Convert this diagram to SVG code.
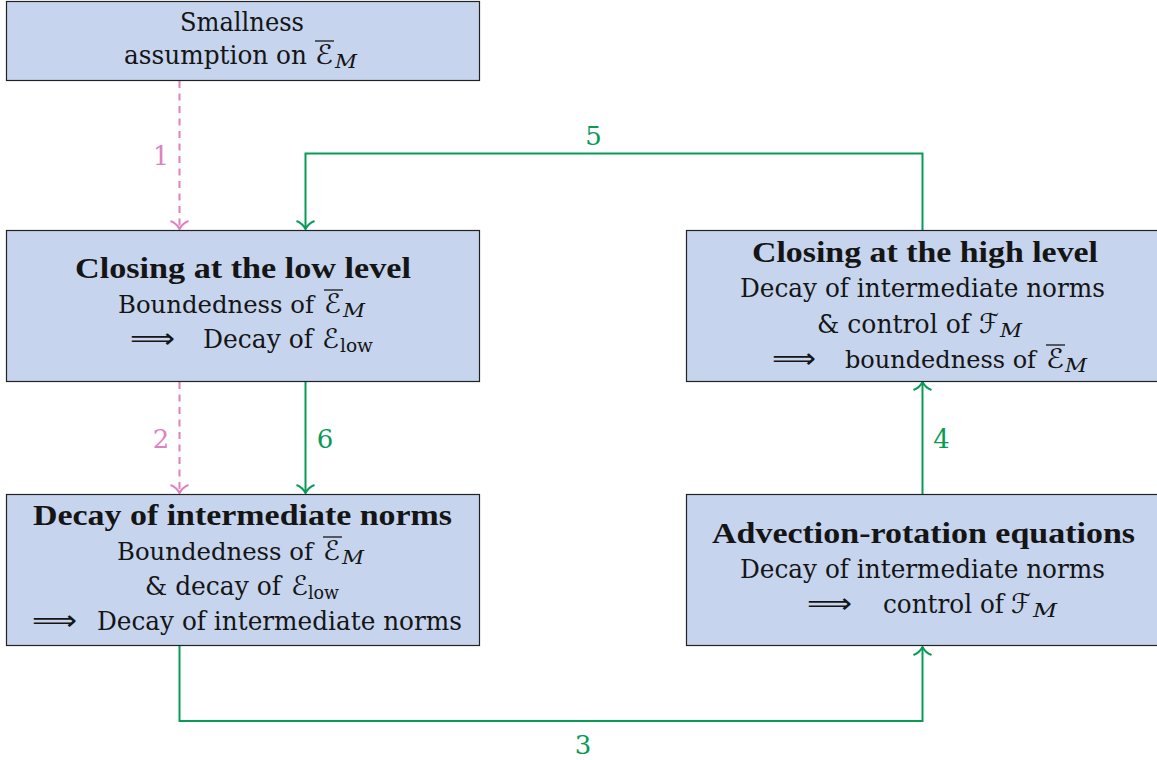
<svg xmlns="http://www.w3.org/2000/svg" width="1157" height="760" viewBox="0 0 1157 760">
<style>
.box{fill:#c6d4ed;stroke:#222;stroke-width:1.2}
text{font-family:"DejaVu Serif","Liberation Serif",serif;font-size:26px;fill:#151515;font-weight:normal}
.b{font-family:"Liberation Serif","DejaVu Serif",serif;font-size:28.8px;font-weight:bold}
.n{font-size:24.5px}
.cal{font-family:"DejaVu Serif","DejaVu Sans",serif;font-size:27px}
.sub{font-size:18px}
.it{font-style:italic}
.arr{font-family:"DejaVu Sans",sans-serif;font-size:28px}
.ov{stroke:#151515;stroke-width:1.3}
.pink{stroke:#dc82c0;stroke-width:2;fill:none;stroke-dasharray:7 5.5}
.green{stroke:#079b57;stroke-width:2;fill:none}
.lp{fill:#dc82c0}
.lg{fill:#079b57}
</style>
<defs>
<marker id="ap" markerUnits="userSpaceOnUse" viewBox="-10 -10 12 20" refX="0" refY="0" markerWidth="12" markerHeight="20" orient="auto" overflow="visible">
<path d="M-8,-9 C-6,-4 -2,-1 0,0 C-2,1 -6,4 -8,9" fill="none" stroke="#dc82c0" stroke-width="2"/>
</marker>
<marker id="ag" markerUnits="userSpaceOnUse" viewBox="-10 -10 12 20" refX="0" refY="0" markerWidth="12" markerHeight="20" orient="auto" overflow="visible">
<path d="M-8,-9 C-6,-4 -2,-1 0,0 C-2,1 -6,4 -8,9" fill="none" stroke="#079b57" stroke-width="2"/>
</marker>
</defs>

<g id="connectors">
<path class="pink" d="M179.5,81 V229" marker-end="url(#ap)"/>
<path class="pink" d="M179.5,382 V493" marker-end="url(#ap)"/>
<path class="green" d="M305.5,382 V493" marker-end="url(#ag)"/>
<path class="green" d="M179.5,646 V721 H922.5 V647" marker-end="url(#ag)"/>
<path class="green" d="M922.5,494 V382" marker-end="url(#ag)"/>
<path class="green" d="M922.5,230 V153.5 H305.5 V229" marker-end="url(#ag)"/>
<text class="lp" x="161" y="165" text-anchor="middle">1</text>
<text class="lp" x="161" y="448" text-anchor="middle">2</text>
<text class="lg" x="325" y="448" text-anchor="middle">6</text>
<text class="lg" x="941.5" y="448" text-anchor="middle">4</text>
<text class="lg" x="593.5" y="145" text-anchor="middle">5</text>
<text class="lg" x="583" y="754" text-anchor="middle">3</text>
</g>

<g id="n-smallness">
<rect class="box" x="6.5" y="1.5" width="473" height="79"/>
<text x="180" y="31" textLength="124" lengthAdjust="spacingAndGlyphs">Smallness</text>
<text y="64"><tspan x="124" textLength="183" lengthAdjust="spacingAndGlyphs">assumption on</tspan><tspan class="cal" x="315" textLength="18" lengthAdjust="spacingAndGlyphs">ℰ</tspan><tspan class="sub it" x="335" dy="4" textLength="22" lengthAdjust="spacingAndGlyphs">M</tspan></text>
<line class="ov" x1="315" x2="334" y1="41" y2="41"/>
</g>

<g id="n-low">
<rect class="box" x="6.5" y="230.5" width="473" height="151"/>
<text class="b" x="75" y="278" textLength="336" lengthAdjust="spacingAndGlyphs">Closing at the low level</text>
<text y="313"><tspan class="n" x="118" textLength="196" lengthAdjust="spacingAndGlyphs">Boundedness of</tspan><tspan class="cal" x="324" textLength="17" lengthAdjust="spacingAndGlyphs">ℰ</tspan><tspan class="sub it" x="343" dy="4" textLength="22" lengthAdjust="spacingAndGlyphs">M</tspan></text>
<line class="ov" x1="324" x2="343" y1="290" y2="290"/>
<text y="348"><tspan class="arr" x="130" textLength="45" lengthAdjust="spacingAndGlyphs">⟹</tspan><tspan x="203" textLength="110" lengthAdjust="spacingAndGlyphs">Decay of</tspan><tspan class="cal" x="322" textLength="17" lengthAdjust="spacingAndGlyphs">ℰ</tspan><tspan class="sub" x="340" dy="4" textLength="33" lengthAdjust="spacingAndGlyphs">low</tspan></text>
</g>

<g id="n-intermediate">
<rect class="box" x="6.5" y="494.5" width="473" height="151"/>
<text class="b" x="33" y="525" textLength="419" lengthAdjust="spacingAndGlyphs">Decay of intermediate norms</text>
<text y="560"><tspan class="n" x="117" textLength="196" lengthAdjust="spacingAndGlyphs">Boundedness of</tspan><tspan class="cal" x="323" textLength="17" lengthAdjust="spacingAndGlyphs">ℰ</tspan><tspan class="sub it" x="342" dy="4" textLength="22" lengthAdjust="spacingAndGlyphs">M</tspan></text>
<line class="ov" x1="323" x2="342" y1="537" y2="537"/>
<text y="595"><tspan x="145" textLength="136" lengthAdjust="spacingAndGlyphs">&amp; decay of</tspan><tspan class="cal" x="291" textLength="17" lengthAdjust="spacingAndGlyphs">ℰ</tspan><tspan class="sub" x="308" dy="4" textLength="31" lengthAdjust="spacingAndGlyphs">low</tspan></text>
<text y="630"><tspan class="arr" x="32" textLength="45" lengthAdjust="spacingAndGlyphs">⟹</tspan><tspan x="97" textLength="365" lengthAdjust="spacingAndGlyphs">Decay of intermediate norms</tspan></text>
</g>

<g id="n-high">
<rect class="box" x="686.5" y="230.5" width="473" height="151"/>
<text class="b" x="752" y="262" textLength="346" lengthAdjust="spacingAndGlyphs">Closing at the high level</text>
<text x="740" y="297" textLength="365" lengthAdjust="spacingAndGlyphs">Decay of intermediate norms</text>
<text y="333"><tspan x="817" textLength="153" lengthAdjust="spacingAndGlyphs">&amp; control of</tspan><tspan class="cal" x="979" textLength="20" lengthAdjust="spacingAndGlyphs">ℱ</tspan><tspan class="sub it" x="1000" dy="4" textLength="22" lengthAdjust="spacingAndGlyphs">M</tspan></text>
<text y="368"><tspan class="arr" x="772" textLength="44" lengthAdjust="spacingAndGlyphs">⟹</tspan><tspan class="n" x="845" textLength="191" lengthAdjust="spacingAndGlyphs">boundedness of</tspan><tspan class="cal" x="1046" textLength="18" lengthAdjust="spacingAndGlyphs">ℰ</tspan><tspan class="sub it" x="1065" dy="4" textLength="22" lengthAdjust="spacingAndGlyphs">M</tspan></text>
<line class="ov" x1="1046" x2="1065" y1="345" y2="345"/>
</g>

<g id="n-advection">
<rect class="box" x="686.5" y="494.5" width="473" height="151"/>
<text class="b" x="712" y="543" textLength="423" lengthAdjust="spacingAndGlyphs">Advection-rotation equations</text>
<text x="740" y="578" textLength="365" lengthAdjust="spacingAndGlyphs">Decay of intermediate norms</text>
<text y="613"><tspan class="arr" x="807" textLength="45" lengthAdjust="spacingAndGlyphs">⟹</tspan><tspan x="883" textLength="121" lengthAdjust="spacingAndGlyphs">control of</tspan><tspan class="cal" x="1011" textLength="20" lengthAdjust="spacingAndGlyphs">ℱ</tspan><tspan class="sub it" x="1033" dy="4" textLength="24" lengthAdjust="spacingAndGlyphs">M</tspan></text>
</g>
</svg>
